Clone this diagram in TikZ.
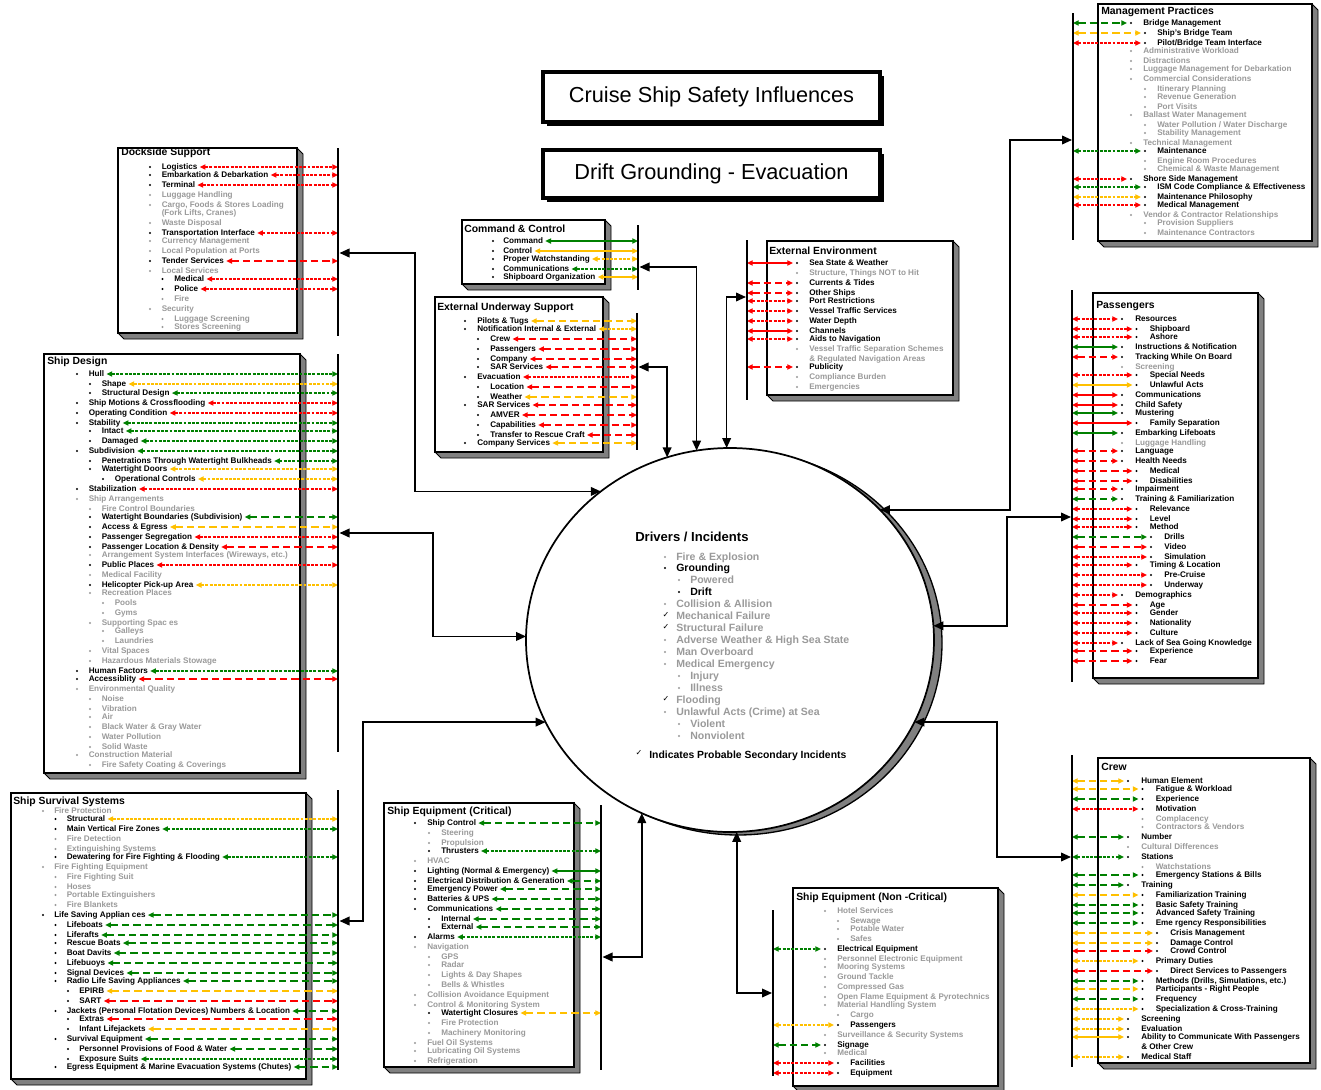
\documentclass[tikz,border=0pt]{standalone}
\usepackage{fontspec}
\setmainfont{Liberation Sans}
\newfontfamily\dejavu{DejaVu Sans}
\usetikzlibrary{arrows.meta,calc,shapes.geometric}
\definecolor{rc}{HTML}{FF0000}
\definecolor{gc}{HTML}{008000}
\definecolor{yc}{HTML}{FFC000}
\definecolor{gtx}{HTML}{9A9A9A}
\definecolor{shd}{HTML}{808080}
\def\xb{0}\def\xl{12.5}\def\xt{12}
\def\bL#1#2#3#4{%
 \coordinate (p) at ({\xb+\xl*#1},#2);
 \fill (p) circle (0.85pt);
 \node[itx] (t) at ($(p)+(\xt,2.7)$) {#4};
 \draw[#3] ($(t.east |- p)+(2,0)$) -- (p -| bar);
}
\def\gL#1#2#3{%
 \coordinate (p) at ({\xb+\xl*#1},#2);
 \fill[gtx] (p) circle (0.85pt);
 \node[itx,text=gtx] (t) at ($(p)+(\xt,2.7)$) {#3};
}
\let\gR\gL
\def\bR#1#2#3#4{%
 \coordinate (p) at ({\xb+\xl*#1},#2);
 \fill (p) circle (0.85pt);
 \node[itx] (t) at ($(p)+(\xt,2.7)$) {#4};
 \draw[#3] (p -| bar) -- ($(p)+(-4,0)$);
}
\def\tbox#1#2#3#4{%
 \filldraw[fill=shd, draw=black, line width=0.7pt] (#3,#2) -- (#3+6,#2+6) -- (#3+6,#4+6) -- (#1+6,#4+6) -- (#1,#4) -- cycle;
 \draw[line width=1.4pt, fill=white] (#1,#2) rectangle (#3,#4);
}
\def\cI#1#2#3#4{%
 \fill[#3] ({665+14*#1},#2) circle (0.9pt);
 \node[cit,text=#3] (ci) at ({665+14*#1+11},#2+3.1) {#4};
}
\def\cK#1#2{%
 \node[font=\dejavu\fontsize{6}{6}\selectfont, inner sep=0pt] (ck) at (666,#1-1.5) {✓};
 \node[cit,text=gtx] (ci) at (676,#1+3.1) {#2};
}
\begin{document}
\begin{tikzpicture}[x=0.75pt,y=-0.75pt,
 itx/.style={font=\fontsize{6.1}{7}\selectfont\bfseries, inner sep=0pt, anchor=base west},
 ttl/.style={font=\fontsize{7.8}{9}\selectfont\bfseries, inner sep=0pt, anchor=base west},
 cit/.style={font=\fontsize{7.9}{9}\selectfont\bfseries, inner sep=0pt, anchor=base west},
 bigt/.style={font=\fontsize{16.3}{18}\selectfont, inner sep=0pt},
 ar/.style={line width=1.1pt, arrows={Triangle[length=4.3pt,width=3.8pt]-Triangle[length=4.3pt,width=3.8pt]}},
 sol/.style={ar},
 dtd/.style={ar, dash pattern=on 2.2pt off 1pt},
 dsh/.style={ar, dash pattern=on 5.5pt off 3pt},
 cRs/.style={sol,color=rc}, cRt/.style={dtd,color=rc}, cRl/.style={dsh,color=rc},
 cGs/.style={sol,color=gc}, cGt/.style={dtd,color=gc}, cGl/.style={dsh,color=gc},
 cYs/.style={sol,color=yc}, cYt/.style={dtd,color=yc}, cYl/.style={dsh,color=yc},
 barl/.style={line width=1.5pt},
 con/.style={line width=1.2pt, arrows={Triangle[length=7.5pt,width=6.5pt]-Triangle[length=7.5pt,width=6.5pt]}}
]
\useasboundingbox[fill=white] (0,0) rectangle (1321,1089);

% ---------- title boxes
\fill (547,76) rectangle (884,126);
\draw[line width=2.6pt, fill=white] (543,72) rectangle (880,122);
\node[bigt] (t1) at (711.5,97) {Cruise Ship Safety Influences};
\fill (547,154) rectangle (884,202);
\draw[line width=2.6pt, fill=white] (543,150) rectangle (880,198);
\node[bigt] (t2) at (711.5,174) {Drift Grounding - Evacuation};

% ---------- central circle
\node[ellipse, draw, line width=1pt, fill=shd, minimum width=306pt, minimum height=288pt, inner sep=0pt, outer sep=0pt] (cs) at (738,643) {};
\node[ellipse, draw, line width=1.3pt, fill=white, minimum width=306pt, minimum height=288pt, inner sep=0pt, outer sep=0pt] (c) at (730,640) {};
\node[font=\fontsize{9.8}{11}\selectfont\bfseries, inner sep=0pt, anchor=base west] (dI) at (635,541.8) {Drivers / Incidents};
\cI{0}{557}{gtx}{Fire \& Explosion}
\cI{0}{568}{black}{Grounding}
\cI{1}{580}{gtx}{Powered}
\cI{1}{592}{black}{Drift}
\cI{0}{604}{gtx}{Collision \& Allision}
\cK{616}{Mechanical Failure}
\cK{628}{Structural Failure}
\cI{0}{640}{gtx}{Adverse Weather \& High Sea State}
\cI{0}{652}{gtx}{Man Overboard}
\cI{0}{664}{gtx}{Medical Emergency}
\cI{1}{676}{gtx}{Injury}
\cI{1}{688}{gtx}{Illness}
\cK{700}{Flooding}
\cI{0}{712}{gtx}{Unlawful Acts (Crime) at Sea}
\cI{1}{724}{gtx}{Violent}
\cI{1}{736}{gtx}{Nonviolent}
\node[font=\dejavu\fontsize{6}{6}\selectfont, inner sep=0pt] (ckl) at (639,752.5) {✓};
\node[font=\fontsize{7.8}{9}\selectfont\bfseries, inner sep=0pt, anchor=base west] (ind) at (649,758) {Indicates Probable Secondary Incidents};

% ---------- Dockside Support
\tbox{118}{148}{297}{333}
\node[ttl] (dsT) at (121,155) {Dockside Support};
\def\xb{150}\def\xl{12.5}\def\xt{11.5}
\coordinate (bar) at (338,0);
\bL{0}{167}{cRt}{Logistics}
\bL{0}{175}{cRt}{Embarkation \& Debarkation}
\bL{0}{185}{cRt}{Terminal}
\gL{0}{195}{Luggage Handling}
\gL{0}{205}{Cargo, Foods \& Stores Loading}
\node[itx,text=gtx] (dsc) at (161.5,215.7) {(Fork Lifts, Cranes)};
\gL{0}{223}{Waste Disposal}
\bL{0}{233}{cRt}{Transportation Interface}
\gL{0}{241}{Currency Management}
\gL{0}{251}{Local Population at Ports}
\bL{0}{261}{cRl}{Tender Services}
\gL{0}{271}{Local Services}
\bL{1}{279}{cRt}{Medical}
\bL{1}{289}{cRt}{Police}
\gL{1}{299}{Fire}
\gL{0}{309}{Security}
\gL{1}{319}{Luggage Screening}
\gL{1}{327}{Stores Screening}
\draw[barl] (338,148) -- (338,336);

% ---------- Ship Design
\tbox{44}{354}{300}{773}
\node[ttl] (sdT) at (47,364) {Ship Design};
\def\xb{77}\def\xl{13}\def\xt{11.5}
\coordinate (bar) at (338,0);
\bL{0}{374}{cGt}{Hull}
\bL{1}{384}{cYt}{Shape}
\bL{1}{393}{cGt}{Structural Design}
\bL{0}{403}{cRt}{Ship Motions \& Crossflooding}
\bL{0}{413}{cRt}{Operating Condition}
\bL{0}{423}{cGt}{Stability}
\bL{1}{431}{cGt}{Intact}
\bL{1}{441}{cGt}{Damaged}
\bL{0}{451}{cGt}{Subdivision}
\bL{1}{461}{cGt}{Penetrations Through Watertight Bulkheads}
\bL{1}{469}{cYt}{Watertight Doors}
\bL{2}{479}{cYt}{Operational Controls}
\bL{0}{489}{cRt}{Stabilization}
\gL{0}{499}{Ship Arrangements}
\gL{1}{509}{Fire Control Boundaries}
\bL{1}{517}{cGl}{Watertight Boundaries (Subdivision)}
\bL{1}{527}{cYl}{Access \& Egress}
\bL{1}{537}{cRt}{Passenger Segregation}
\bL{1}{547}{cRl}{Passenger Location \& Density}
\gL{1}{555}{Arrangement System Interfaces (Wireways, etc.)}
\bL{1}{565}{cRt}{Public Places}
\gL{1}{575}{Medical Facility}
\bL{1}{585}{cYt}{Helicopter Pick-up Area}
\gL{1}{593}{Recreation Places}
\gL{2}{603}{Pools}
\gL{2}{613}{Gyms}
\gL{1}{623}{Supporting Spac es}
\gL{2}{631}{Galleys}
\gL{2}{641}{Laundries}
\gL{1}{651}{Vital Spaces}
\gL{1}{661}{Hazardous Materials Stowage}
\bL{0}{671}{cGt}{Human Factors}
\bL{0}{679}{cRl}{Accessiblity}
\gL{0}{689}{Environmental Quality}
\gL{1}{699}{Noise}
\gL{1}{709}{Vibration}
\gL{1}{717}{Air}
\gL{1}{727}{Black Water \& Gray Water}
\gL{1}{737}{Water Pollution}
\gL{1}{747}{Solid Waste}
\gL{0}{755}{Construction Material}
\gL{1}{765}{Fire Safety Coating \& Coverings}
\draw[barl] (338,354) -- (338,752);

% ---------- Ship Survival Systems
\tbox{11}{793}{306}{1079}
\node[ttl] (ssT) at (13,804) {Ship Survival Systems};
\def\xb{43}\def\xl{12.5}\def\xt{11}
\coordinate (bar) at (338,0);
\gL{0}{811}{Fire Protection}
\bL{1}{819}{cYt}{Structural}
\bL{1}{829}{cGt}{Main Vertical Fire Zones}
\gL{1}{839}{Fire Detection}
\gL{1}{849}{Extinguishing Systems}
\bL{1}{857}{cGt}{Dewatering for Fire Fighting \& Flooding}
\gL{0}{867}{Fire Fighting Equipment}
\gL{1}{877}{Fire Fighting Suit}
\gL{1}{887}{Hoses}
\gL{1}{895}{Portable Extinguishers}
\gL{1}{905}{Fire Blankets}
\bL{0}{915}{cGl}{Life Saving Applian ces}
\bL{1}{925}{cGl}{Lifeboats}
\bL{1}{935}{cGl}{Liferafts}
\bL{1}{943}{cGl}{Rescue Boats}
\bL{1}{953}{cGl}{Boat Davits}
\bL{1}{963}{cGl}{Lifebuoys}
\bL{1}{973}{cGl}{Signal Devices}
\bL{1}{981}{cGl}{Radio Life Saving Appliances}
\bL{2}{991}{cYl}{EPIRB}
\bL{2}{1001}{cRl}{SART}
\bL{1}{1011}{cGl}{Jackets (Personal Flotation Devices) Numbers \& Location}
\bL{2}{1019}{cRl}{Extras}
\bL{2}{1029}{cYl}{Infant Lifejackets}
\bL{1}{1039}{cGl}{Survival Equipment}
\bL{2}{1049}{cGl}{Personnel Provisions of Food \& Water}
\bL{2}{1059}{cGt}{Exposure Suits}
\bL{1}{1067}{cGl}{Egress Equipment \& Marine Evacuation Systems (Chutes)}
\draw[barl] (338,790) -- (338,1070);

% ---------- Command & Control
\tbox{462}{220}{605}{284}
\node[ttl] (ccT) at (464,232) {Command \& Control};
\def\xb{493}\def\xl{13}\def\xt{10}
\coordinate (bar) at (638,0);
\bL{0}{241}{cGs}{Command}
\bL{0}{251}{cYs}{Control}
\bL{0}{259}{cYt}{Proper Watchstanding}
\bL{0}{269}{cGt}{Communications}
\bL{0}{277}{cYs}{Shipboard Organization}
\draw[barl] (638,225) -- (638,290);

% ---------- External Underway Support
\tbox{435}{297}{603}{452}
\node[ttl] (euT) at (437,310) {External Underway Support};
\def\xb{465}\def\xl{13}\def\xt{12}
\coordinate (bar) at (637,0);
\bL{0}{321}{cYl}{Pilots \& Tugs}
\bL{0}{329}{cYt}{Notification Internal \& External}
\bL{1}{339}{cRl}{Crew}
\bL{1}{349}{cRl}{Passengers}
\bL{1}{359}{cRl}{Company}
\bL{1}{367}{cRl}{SAR Services}
\bL{0}{377}{cRt}{Evacuation}
\bL{1}{387}{cRl}{Location}
\bL{1}{397}{cYl}{Weather}
\bL{0}{405}{cRl}{SAR Services}
\bL{1}{415}{cRl}{AMVER}
\bL{1}{425}{cRl}{Capabilities}
\bL{1}{435}{cRl}{Transfer to Rescue Craft}
\bL{0}{443}{cYl}{Company Services}
\draw[barl] (637,313) -- (637,450);

% ---------- Ship Equipment (Critical)
\tbox{384}{803}{574}{1067}
\node[ttl] (ceT) at (387,814) {Ship Equipment (Critical)};
\def\xb{415}\def\xl{14}\def\xt{12}
\coordinate (bar) at (601,0);
\bL{0}{823}{cGl}{Ship Control}
\gL{1}{833}{Steering}
\gL{1}{843}{Propulsion}
\bL{1}{851}{cGt}{Thrusters}
\gL{0}{861}{HVAC}
\bL{0}{871}{cGs}{Lighting (Normal \& Emergency)}
\bL{0}{881}{cGl}{Electrical Distribution \& Generation}
\bL{0}{889}{cGl}{Emergency Power}
\bL{0}{899}{cGl}{Batteries \& UPS}
\bL{0}{909}{cGl}{Communications}
\bL{1}{919}{cGl}{Internal}
\bL{1}{927}{cGl}{External}
\bL{0}{937}{cGt}{Alarms}
\gL{0}{947}{Navigation}
\gL{1}{957}{GPS}
\gL{1}{965}{Radar}
\gL{1}{975}{Lights \& Day Shapes}
\gL{1}{985}{Bells \& Whistles}
\gL{0}{995}{Collision Avoidance Equipment}
\gL{0}{1005}{Control \& Monitoring System}
\bL{1}{1013}{cYl}{Watertight Closures}
\gL{1}{1023}{Fire Protection}
\gL{1}{1033}{Machinery Monitoring}
\gL{0}{1043}{Fuel Oil Systems}
\gL{0}{1051}{Lubricating Oil Systems}
\gL{0}{1061}{Refrigeration}
\draw[barl] (601,805) -- (601,1070);

% ---------- External Environment
\tbox{767}{241}{953}{395}
\node[ttl] (eeT) at (769,254) {External Environment};
\def\xb{797}\def\xl{13}\def\xt{12}
\coordinate (bar) at (747,0);
\bR{0}{263}{cRs}{Sea State \& Weather}
\gR{0}{273}{Structure, Things NOT to Hit}
\bR{0}{283}{cRl}{Currents \& Tides}
\bR{0}{293}{cRl}{Other Ships}
\bR{0}{301}{cRt}{Port Restrictions}
\bR{0}{311}{cRt}{Vessel Traffic Services}
\bR{0}{321}{cRt}{Water Depth}
\bR{0}{331}{cRs}{Channels}
\bR{0}{339}{cRt}{Aids to Navigation}
\gR{0}{349}{Vessel Traffic Separation Schemes}
\node[itx,text=gtx] (eec) at (809,361.7) {\& Regulated Navigation Areas};
\bR{0}{367}{cRl}{Publicity}
\gR{0}{377}{Compliance Burden}
\gR{0}{387}{Emergencies}
\draw[barl] (747,240) -- (747,400);

% ---------- Management Practices
\tbox{1098}{4}{1312}{241}
\node[ttl] (mpT) at (1101,14) {Management Practices};
\def\xb{1131}\def\xl{14}\def\xt{12}
\coordinate (bar) at (1073,0);
\bR{0}{23}{cGl}{Bridge Management}
\bR{1}{33}{cYl}{Ship's Bridge Team}
\bR{1}{43}{cRt}{Pilot/Bridge Team Interface}
\gR{0}{51}{Administrative Workload}
\gR{0}{61}{Distractions}
\gR{0}{69}{Luggage Management for Debarkation}
\gR{0}{79}{Commercial Considerations}
\gR{1}{89}{Itinerary Planning}
\gR{1}{97}{Revenue Generation}
\gR{1}{107}{Port Visits}
\gR{0}{115}{Ballast Water Management}
\gR{1}{125}{Water Pollution / Water Discharge}
\gR{1}{133}{Stability Management}
\gR{0}{143}{Technical Management}
\bR{1}{151}{cGt}{Maintenance}
\gR{1}{161}{Engine Room Procedures}
\gR{1}{169}{Chemical \& Waste Management}
\bR{0}{179}{cRt}{Shore Side Management}
\bR{1}{187}{cGt}{ISM Code Compliance \& Effectiveness}
\bR{1}{197}{cYt}{Maintenance Philosophy}
\bR{1}{205}{cRt}{Medical Management}
\gR{0}{215}{Vendor \& Contractor Relationships}
\gR{1}{223}{Provision Suppliers}
\gR{1}{233}{Maintenance Contractors}
\draw[barl] (1073,13) -- (1073,240);

% ---------- Passengers
\tbox{1093}{293}{1258}{678}
\node[ttl] (paT) at (1096,308) {Passengers};
\def\xb{1122}\def\xl{14.5}\def\xt{13}
\coordinate (bar) at (1072,0);
\bR{0}{319}{cRt}{Resources}
\bR{1}{329}{cRt}{Shipboard}
\bR{1}{337}{cRt}{Ashore}
\bR{0}{347}{cGs}{Instructions \& Notification}
\bR{0}{357}{cRl}{Tracking While On Board}
\gR{0}{367}{Screening}
\bR{1}{375}{cRt}{Special Needs}
\bR{1}{385}{cYs}{Unlawful Acts}
\bR{0}{395}{cRs}{Communications}
\bR{0}{405}{cRs}{Child Safety}
\bR{0}{413}{cGs}{Mustering}
\bR{1}{423}{cRs}{Family Separation}
\bR{0}{433}{cGs}{Embarking Lifeboats}
\gR{0}{443}{Luggage Handling}
\bR{0}{451}{cRl}{Language}
\bR{0}{461}{cRl}{Health Needs}
\bR{1}{471}{cRl}{Medical}
\bR{1}{481}{cRl}{Disabilities}
\bR{0}{489}{cRl}{Impairment}
\bR{0}{499}{cGl}{Training \& Familiarization}
\bR{1}{509}{cRt}{Relevance}
\bR{1}{519}{cRt}{Level}
\bR{1}{527}{cRt}{Method}
\bR{2}{537}{cGl}{Drills}
\bR{2}{547}{cRl}{Video}
\bR{2}{557}{cRt}{Simulation}
\bR{1}{565}{cRt}{Timing \& Location}
\bR{2}{575}{cRt}{Pre-Cruise}
\bR{2}{585}{cRt}{Underway}
\bR{0}{595}{cRt}{Demographics}
\bR{1}{605}{cRl}{Age}
\bR{1}{613}{cRt}{Gender}
\bR{1}{623}{cRt}{Nationality}
\bR{1}{633}{cRt}{Culture}
\bR{0}{643}{cRt}{Lack of Sea Going Knowledge}
\bR{1}{651}{cRl}{Experience}
\bR{1}{661}{cRl}{Fear}
\draw[barl] (1072,290) -- (1072,682);

% ---------- Crew
\tbox{1098}{758}{1310}{1063}
\node[ttl] (crT) at (1101,770) {Crew};
\def\xb{1128}\def\xl{14.5}\def\xt{13}
\coordinate (bar) at (1072,0);
\bR{0}{781}{cYl}{Human Element}
\bR{1}{789}{cYl}{Fatigue \& Workload}
\bR{1}{799}{cGl}{Experience}
\bR{1}{809}{cRt}{Motivation}
\gR{1}{819}{Complacency}
\gR{1}{827}{Contractors \& Vendors}
\bR{0}{837}{cGl}{Number}
\gR{0}{847}{Cultural Differences}
\bR{0}{857}{cGt}{Stations}
\gR{1}{867}{Watchstations}
\bR{1}{875}{cGl}{Emergency Stations \& Bills}
\bR{0}{885}{cGl}{Training}
\bR{1}{895}{cYl}{Familiarization Training}
\bR{1}{905}{cGl}{Basic Safety Training}
\bR{1}{913}{cGl}{Advanced Safety Training}
\bR{1}{923}{cGl}{Eme rgency Responsibilities}
\bR{2}{933}{cYl}{Crisis Management}
\bR{2}{943}{cYl}{Damage Control}
\bR{2}{951}{cRl}{Crowd Control}
\bR{1}{961}{cYt}{Primary Duties}
\bR{2}{971}{cRl}{Direct Services to Passengers}
\bR{1}{981}{cGl}{Methods (Drills, Simulations, etc.)}
\bR{1}{989}{cYl}{Participants - Right People}
\bR{1}{999}{cGl}{Frequency}
\bR{1}{1009}{cYt}{Specialization \& Cross-Training}
\bR{0}{1019}{cYt}{Screening}
\bR{0}{1029}{cYt}{Evaluation}
\bR{0}{1037}{cYs}{Ability to Communicate With Passengers}
\node[itx] (crc) at (1141,1049.7) {\& Other Crew};
\bR{0}{1057}{cYt}{Medical Staff}
\draw[barl] (1072,755) -- (1072,1067);

% ---------- Ship Equipment (Non-Critical)
\tbox{793}{888}{998}{1086}
\node[ttl] (ncT) at (796,900) {Ship Equipment (Non -Critical)};
\def\xb{825}\def\xl{13}\def\xt{12}
\coordinate (bar) at (773,0);
\gR{0}{911}{Hotel Services}
\gR{1}{921}{Sewage}
\gR{1}{929}{Potable Water}
\gR{1}{939}{Safes}
\bR{0}{949}{cGt}{Electrical Equipment}
\gR{0}{959}{Personnel Electronic Equipment}
\gR{0}{967}{Mooring Systems}
\gR{0}{977}{Ground Tackle}
\gR{0}{987}{Compressed Gas}
\gR{0}{997}{Open Flame Equipment \& Pyrotechnics}
\gR{0}{1005}{Material Handling System}
\gR{1}{1015}{Cargo}
\bR{1}{1025}{cYt}{Passengers}
\gR{0}{1035}{Surveillance \& Security Systems}
\bR{0}{1045}{cGl}{Signage}
\gR{0}{1053}{Medical}
\bR{1}{1063}{cRt}{Facilities}
\bR{1}{1073}{cRt}{Equipment}
\draw[barl] (773,910) -- (773,1076);

% ---------- connectors between the bars and the circle
\coordinate (kDS) at (339.5,253);
\coordinate (kSD) at (339.5,533);
\coordinate (kSS) at (339.5,921);
\coordinate (kCE) at (602.5,957);
\coordinate (kNC) at (772,993);
\coordinate (kCR) at (1071,857);
\coordinate (kPA) at (1071,517);
\coordinate (kEE) at (746,297);
\coordinate (kCC) at (639.5,267);
\coordinate (kEU) at (638.5,367);
\coordinate (kMP) at (1072,140);
\draw[con] (kDS) -- (415,253) |- (c.131);
\draw[con] (kSD) -- (433,533) |- (c.179);
\draw[con] (kSS) -- (363,921) |- (c.204);
\draw[con] (kCE) -| (c.243.4);
\draw[con] (kNC) -| (c.272);
\draw[con] (kCR) -- (997,857) |- (c.336);
\draw[con] (kPA) -- (1007,517) |- (c.4);
\draw[con] (kEE) -| (c.91);
\draw[con] (kCC) -| (c.100.5);
\draw[con] (kEU) -| (c.109.7);
\draw[con] (kMP) -- (1010,140) |- (c.41.7);
\end{tikzpicture}
\end{document}
